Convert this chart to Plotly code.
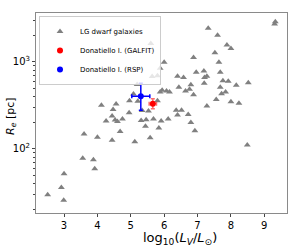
import plotly.graph_objects as go

# LG dwarf galaxies: log10(L_V/L_sun) and R_e [pc]
lg_logL = [7.32, 7.60, 7.88, 8.00, 7.52, 6.88, 7.64, 6.00, 5.88, 5.60,
           6.96, 7.19, 7.68, 7.28, 7.21, 6.40, 6.58, 5.64, 5.80, 7.76,
           7.92, 7.20, 8.16, 8.52, 6.80, 6.44, 6.76, 6.64, 7.68, 7.84,
           7.72, 5.94, 5.88, 6.07, 6.16, 6.88, 7.56, 8.00, 8.24, 7.28,
           5.80, 6.36, 6.52, 6.40, 6.72, 9.31, 9.33, 5.34, 5.53, 5.68,
           5.91, 6.12, 6.80, 5.19, 5.08, 4.96, 5.21, 4.12, 4.56, 4.47,
           4.44, 4.26, 4.53, 4.60, 4.75, 4.95, 5.31, 5.46, 5.44, 5.84,
           3.60, 4.00, 4.44, 4.68, 5.12, 5.58, 6.92, 8.49, 3.56, 3.88,
           3.92, 3.00, 2.92, 2.51, 2.99]
lg_Re = [2440, 2028, 1567, 1429, 1279, 1127, 995, 993, 847, 1633,
         764, 788, 764, 685, 664, 685, 664, 681, 693, 610,
         600, 569, 541, 578, 548, 512, 485, 464, 512, 452,
         432, 473, 452, 464, 452, 421, 371, 349, 336, 312,
         358, 279, 279, 245, 249, 2735, 2904, 277, 274, 221,
         210, 221, 202, 551, 428, 359, 353, 318, 329, 285,
         239, 210, 215, 207, 221, 261, 213, 217, 182, 174,
         149, 136, 126, 159, 121, 135, 162, 111, 78.2, 75.2,
         59.2, 52.0, 36.0, 29.8, 25.8]

# Donatiello I measurements
galfit_logL = [5.66]
galfit_logL_err = [0.11]
galfit_Re = [332]
galfit_Re_up = [47]
galfit_Re_lo = [42]

rsp_logL = [5.30]
rsp_logL_err = [0.27]
rsp_Re = [404]
rsp_Re_up = [165]
rsp_Re_lo = [125]

x_ticks = [3, 4, 5, 6, 7, 8, 9]
y_ticks = [100, 1000]
y_ticktext = ["10<sup>2</sup>", "10<sup>3</sup>"]
y_minor = [20, 30, 40, 50, 60, 70, 80, 90, 200, 300, 400, 500, 600, 700, 800, 900, 2000, 3000]

x_title = "log<sub>10</sub>(<i>L<sub>V</sub></i>/<i>L</i><sub>⊙</sub>)"
y_title = "<i>R<sub>e</sub></i> [pc]"

FONT = "DejaVu Sans"

fig = go.Figure()
fig.add_trace(go.Scatter(
    x=lg_logL, y=lg_Re, mode="markers", name="LG dwarf galaxies",
    marker=dict(symbol="triangle-up", size=6, color="#808080"),
))
fig.add_trace(go.Scatter(
    x=galfit_logL, y=galfit_Re, mode="markers", name="Donatiello I. (GALFIT)",
    marker=dict(symbol="circle", size=6, color="red"),
    error_x=dict(type="data", array=galfit_logL_err, color="rgba(255,60,60,0.75)", thickness=1.5, width=2),
    error_y=dict(type="data", array=galfit_Re_up, arrayminus=galfit_Re_lo, symmetric=False,
                 color="rgba(255,60,60,0.75)", thickness=1.5, width=2),
))
fig.add_trace(go.Scatter(
    x=rsp_logL, y=rsp_Re, mode="markers", name="Donatiello I. (RSP)",
    marker=dict(symbol="circle", size=6, color="blue"),
    error_x=dict(type="data", array=rsp_logL_err, color="blue", thickness=1.5, width=2),
    error_y=dict(type="data", array=rsp_Re_up, arrayminus=rsp_Re_lo, symmetric=False,
                 color="blue", thickness=1.5, width=2),
))

axis_common = dict(showgrid=False, zeroline=False, showline=True, mirror=True,
                   linecolor="#8a8a8a", linewidth=1, ticks="outside", ticklen=3,
                   tickcolor="#444", automargin=False,
                   tickfont=dict(family=FONT, size=10, color="black"))

fig.update_xaxes(range=[2.16, 9.68], tickvals=x_ticks, **axis_common)
fig.update_yaxes(type="log", range=[1.264, 3.563], tickvals=y_ticks, ticktext=y_ticktext,
                 minor=dict(ticks="outside", ticklen=2, tickvals=y_minor, tickcolor="#444"),
                 **axis_common)

fig.add_annotation(text=x_title, xref="paper", yref="paper", x=0.574, y=-0.125,
                   xanchor="center", yanchor="middle", showarrow=False,
                   font=dict(family=FONT, size=13, color="black"))
fig.add_annotation(text=y_title, xref="paper", yref="paper", x=-0.10, y=0.485,
                   xanchor="center", yanchor="middle", showarrow=False, textangle=-90,
                   font=dict(family=FONT, size=11, color="black"))

fig.update_layout(
    width=300, height=250,
    margin=dict(l=36, r=13, t=13, b=37, autoexpand=False),
    paper_bgcolor="white", plot_bgcolor="white",
    font=dict(family=FONT, color="black"),
    legend=dict(x=0.012, y=0.985, xanchor="left", yanchor="top",
                bgcolor="rgba(255,255,255,0.8)", bordercolor="#cccccc", borderwidth=1,
                font=dict(family=FONT, size=7), itemwidth=30, tracegroupgap=0),
    showlegend=True,
)

fig.write_html("out.html", config={"displayModeBar": False},
               post_script="document.body.style.margin='0px';document.body.style.padding='0px';")
